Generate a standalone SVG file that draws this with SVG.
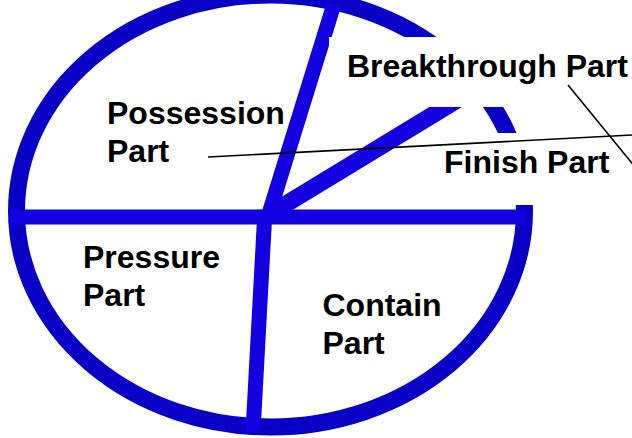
<svg xmlns="http://www.w3.org/2000/svg" width="632" height="438" viewBox="0 0 632 438">
<style>
.rim{fill:none;stroke:#0800C6;stroke-width:17}
.div{fill:none;stroke:#1200E0;stroke-width:15;stroke-linecap:butt}
.mask{fill:#FFFFFF;stroke:none}
.lbl{font-family:"Liberation Sans",Arial,sans-serif;font-weight:bold;font-size:32px;fill:#000000}
.lead{fill:none;stroke:#000000;stroke-width:1.6}
</style>
<rect x="0" y="0" width="632" height="438" fill="#FFFFFF"/>
<g id="wheel">
<ellipse class="rim" cx="270.5" cy="211" rx="254" ry="216"/>
<line class="div" x1="10" y1="217" x2="526" y2="217"/>
<line class="div" x1="265" y1="210" x2="253" y2="432"/>
<line class="div" x1="268" y1="217" x2="334" y2="4"/>
<line class="div" x1="268" y1="215" x2="500" y2="74" style="stroke-width:17"/>
</g>
<g id="masks">
<rect class="mask" x="329" y="37" width="303" height="70"/>
<rect class="mask" x="425" y="133" width="207" height="72"/>
</g>
<g id="possession">
<text class="lbl" x="107" y="124">Possession</text>
<text class="lbl" x="107" y="162">Part</text>
</g>
<g id="breakthrough">
<text class="lbl" x="347" y="77">Breakthrough Part</text>
</g>
<g id="finish">
<text class="lbl" x="444" y="173">Finish Part</text>
</g>
<g id="pressure">
<text class="lbl" x="83" y="268">Pressure</text>
<text class="lbl" x="83" y="306">Part</text>
</g>
<g id="contain">
<text class="lbl" x="322.5" y="316">Contain</text>
<text class="lbl" x="322.5" y="354">Part</text>
</g>
<g id="connectors">
<line class="lead" x1="208" y1="157" x2="632" y2="135"/>
<line class="lead" x1="568" y1="85" x2="640" y2="173"/>
</g>
</svg>
